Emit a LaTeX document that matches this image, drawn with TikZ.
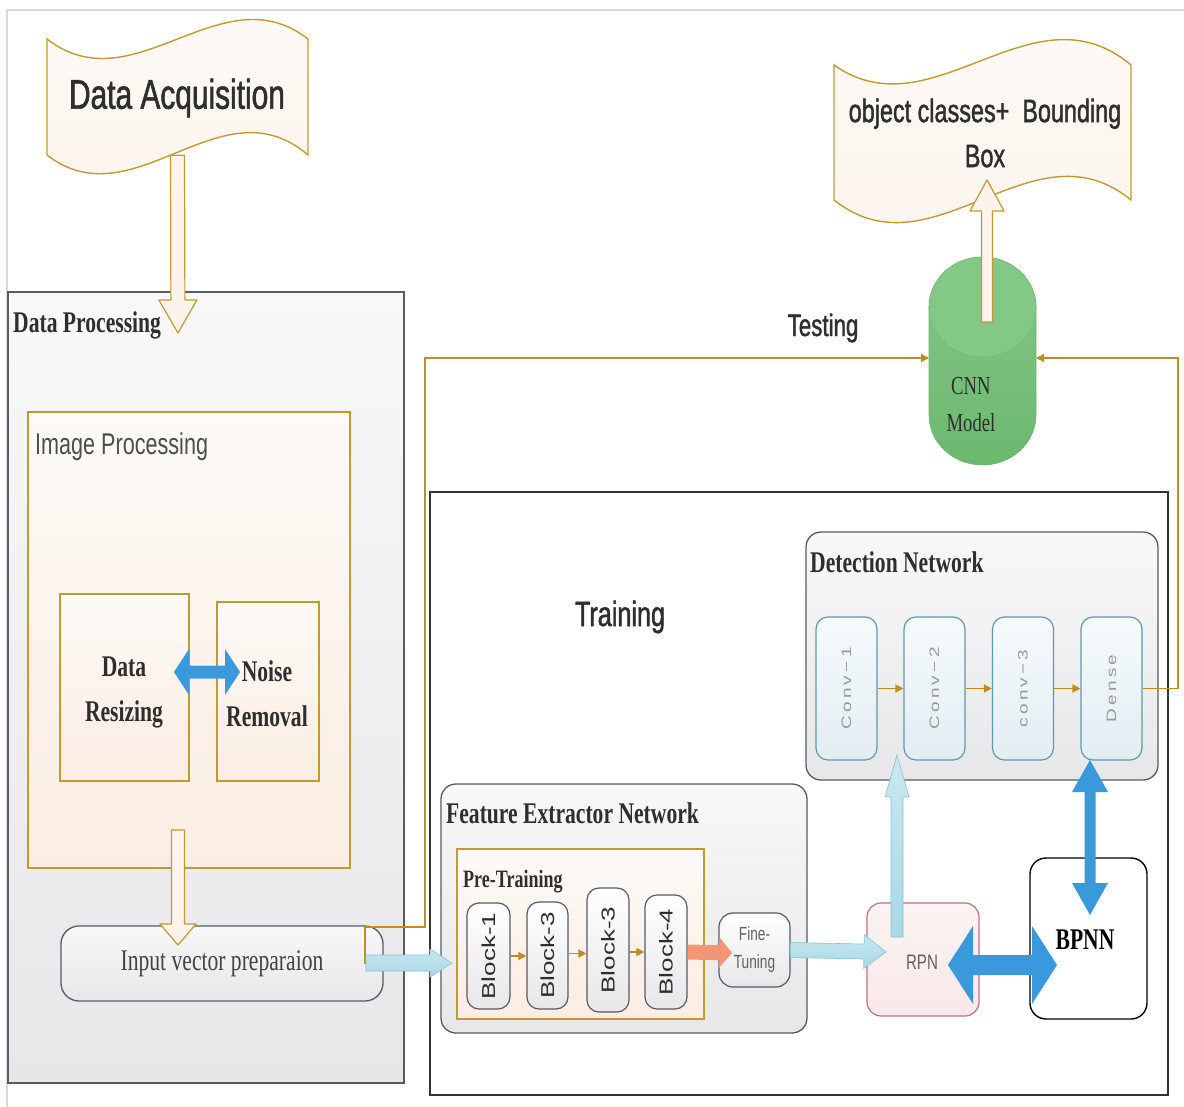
\documentclass[tikz,border=0pt]{standalone}
\usepackage{fontspec}
\usepackage{graphicx}
\usetikzlibrary{calc,arrows.meta}
\newfontfamily\nsans[FakeStretch=0.72]{Liberation Sans}
\newfontfamily\nsansb[FakeStretch=0.72,FakeBold=1.3]{Liberation Sans}
\newfontfamily\nserif[FakeStretch=0.72]{Liberation Serif}
\newfontfamily\rsans{Liberation Sans}
\newfontfamily\lsans[LetterSpace=17]{Liberation Sans}
\definecolor{gold}{HTML}{C39A2E}
\definecolor{goldline}{HTML}{C08E1E}
\definecolor{cream}{HTML}{FCF4EC}
\definecolor{creamtop}{HTML}{FDFAF7}
\definecolor{creamdk}{HTML}{FBEDE2}
\definecolor{boxgray}{HTML}{565B66}
\definecolor{graytop}{HTML}{F8F8F9}
\definecolor{graybot}{HTML}{E7E7EA}
\definecolor{convtop}{HTML}{F6FAFC}
\definecolor{convbot}{HTML}{E2EDF2}
\definecolor{bluearr}{HTML}{3A99DC}
\definecolor{lblue}{HTML}{A9D8E6}
\definecolor{lbluetop}{HTML}{C8E8F0}
\definecolor{lbluedk}{HTML}{86C3D4}
\definecolor{teal}{HTML}{5E9BA9}
\definecolor{orangearr}{HTML}{F29675}
\definecolor{cnngreen}{HTML}{74BF77}
\definecolor{cnntop}{HTML}{84C886}
\definecolor{cnnbot}{HTML}{6CB86F}
\definecolor{rpntop}{HTML}{FCF3F3}
\definecolor{rpnbot}{HTML}{F9E8E9}
\definecolor{rpnline}{HTML}{C27078}
\definecolor{txt}{HTML}{2E2E2E}
\newcommand\blockarrow[6]{%
  \coordinate (bah) at ($(#3)!#6!(#2)$);
  \path[#1] ($(#2)!#4!90:(#3)$) -- ($(bah)!#4!90:(#3)$) -- ($(bah)!#5!90:(#3)$) -- (#3)
    -- ($(bah)!#5!-90:(#3)$) -- ($(bah)!#4!-90:(#3)$) -- ($(#2)!#4!-90:(#3)$) -- cycle;}
\newcommand\dblarrow[6]{%
  \coordinate (dba) at ($(#2)!#6!(#3)$);
  \coordinate (dbb) at ($(#3)!#6!(#2)$);
  \path[#1] (#2) -- ($(dba)!#5!90:(#3)$) -- ($(dba)!#4!90:(#3)$) -- ($(dbb)!#4!90:(#3)$)
    -- ($(dbb)!#5!90:(#3)$) -- (#3) -- ($(dbb)!#5!-90:(#3)$) -- ($(dbb)!#4!-90:(#3)$)
    -- ($(dba)!#4!-90:(#3)$) -- ($(dba)!#5!-90:(#3)$) -- cycle;}
\tikzset{
  graybox/.style={draw=boxgray, line width=1.3pt, top color=graytop, bottom color=graybot, inner sep=0pt},
  creambox/.style={draw=gold, line width=1.3pt, top color=creamtop, bottom color=creamdk, inner sep=0pt},
  blockbox/.style={draw=boxgray, line width=1.2pt, rounded corners=12pt, top color=white, bottom color=graybot, inner sep=0pt},
  convbox/.style={draw=teal, line width=1.2pt, rounded corners=12pt, top color=convtop, bottom color=convbot, inner sep=0pt},
  flag/.style={draw=gold, line width=1.4pt, top color=creamtop, bottom color=cream},
  hollow/.style={draw=gold, line width=1.2pt, fill=cream, line join=round},
  lbarrow/.style={draw=lbluedk, line width=0.6pt, top color=lbluetop, bottom color=lblue},
  bluedbl/.style={fill=bluearr},
  goldconn/.style={draw=goldline, line width=1.5pt, -{Triangle[length=8pt,width=8pt]}},
  titlese/.style={font=\nserif\bfseries\fontsize{30}{34}\selectfont, text=txt, inner sep=0pt},
  titlesa/.style={font=\nsans\fontsize{30}{34}\selectfont, text=txt!85!white, inner sep=0pt},
}
\begin{document}
\begin{tikzpicture}[x=1pt,y=-1pt]
\useasboundingbox (0,0) rectangle (1184,1107);
\fill[white] (0,0) rectangle (1184,1107);
\draw[gray!30, line width=1.2pt] (7,1107) -- (7,10) -- (1184,10);

% ---------- Data processing side
\node[graybox, minimum width=396, minimum height=791] (dp) at (206,687.5) {};
\node[titlese, anchor=base west] (dptitle) at (13,333) {Data Processing};
\node[creambox, minimum width=322, minimum height=456] (ip) at (189,640) {};
\node[titlesa, anchor=base west] (iptitle) at (35,454) {Image Processing};
\node[creambox, minimum width=129, minimum height=187] (dr) at (124.5,687.5) {};
\node[creambox, minimum width=102, minimum height=179] (nr) at (268,691.5) {};
\node[titlese, align=center, font=\nserif\bfseries\fontsize{30}{45}\selectfont] (drt) at (124,692) {Data\\Resizing};
\node[titlese, align=center, font=\nserif\bfseries\fontsize{30}{45}\selectfont] (nrt) at (267,694) {Noise\\Removal};
\node[draw=boxgray, line width=1.3pt, rounded corners=18pt, top color=graytop, bottom color=graybot, minimum width=322, minimum height=75, inner sep=0pt] (inp) at (222,963.5) {};
\node[font=\nserif\fontsize{30}{34}\selectfont, text=txt!90!white] (inpt) at (222,964) {Input vector preparaion};

% ---------- Training side
\node[draw=black!80, line width=1.3pt, fill=white, minimum width=738, minimum height=603, inner sep=0pt] (tr) at (799,793.5) {};
\node[font=\nsansb\fontsize{35}{40}\selectfont, text=txt] (trt) at (620,617) {Training};
\node[graybox, rounded corners=15pt, minimum width=352, minimum height=248] (dn) at (982,656) {};
\node[titlese, anchor=base west] (dnt) at (810,572) {Detection Network};
\node[convbox, minimum width=61, minimum height=143] (c1) at (846.5,688.5) {\rotatebox{90}{\scalebox{1}[0.72]{\lsans\fontsize{19}{19}\selectfont\color{gray!80}Conv−1}}};
\node[convbox, minimum width=61, minimum height=143] (c2) at (934.5,688.5) {\rotatebox{90}{\scalebox{1}[0.72]{\lsans\fontsize{19}{19}\selectfont\color{gray!80}Conv−2}}};
\node[convbox, minimum width=61, minimum height=143] (c3) at (1023,688.5) {\rotatebox{90}{\scalebox{1}[0.72]{\lsans\fontsize{19}{19}\selectfont\color{gray!80}conv−3}}};
\node[convbox, minimum width=61, minimum height=143] (de) at (1111.5,688.5) {\rotatebox{90}{\scalebox{1}[0.72]{\lsans\fontsize{19}{19}\selectfont\color{gray!80}Dense}}};
\draw[goldconn] (c1) -- (c2);
\draw[goldconn] (c2) -- (c3);
\draw[goldconn] (c3) -- (de);

\node[graybox, rounded corners=15pt, minimum width=366, minimum height=249] (fe) at (624,908.5) {};
\node[titlese, anchor=base west] (fet) at (446,823) {Feature Extractor Network};
\node[creambox, minimum width=247, minimum height=170] (pt) at (580.5,934) {};
\node[titlese, anchor=base west, font=\nserif\bfseries\fontsize{25}{30}\selectfont] (ptt) at (463,887) {Pre-Training};
\node[blockbox, minimum width=43, minimum height=106] (b1) at (488.5,956) {\rotatebox{90}{\scalebox{1}[0.72]{\rsans\fontsize{26}{26}\selectfont\color{txt}Block-1}}};
\node[blockbox, minimum width=41, minimum height=107] (b2) at (547.5,955.5) {\rotatebox{90}{\scalebox{1}[0.72]{\rsans\fontsize{26}{26}\selectfont\color{txt}Block-3}}};
\node[blockbox, minimum width=42, minimum height=124] (b3) at (608,950) {\rotatebox{90}{\scalebox{1}[0.72]{\rsans\fontsize{26}{26}\selectfont\color{txt}Block-3}}};
\node[blockbox, minimum width=42, minimum height=114] (b4) at (666,952) {\rotatebox{90}{\scalebox{1}[0.72]{\rsans\fontsize{26}{26}\selectfont\color{txt}Block-4}}};
\draw[goldconn] (b1.east) -- (b1.east -| b2.west);
\draw[goldconn] ($(b2.east)+(0,-2)$) -- ($(b2.east -| b3.west)+(0,-2)$);
\draw[goldconn] ($(b3.east)+(0,2)$) -- ($(b3.east -| b4.west)+(0,2)$);
\node[blockbox, rounded corners=14pt, minimum width=71, minimum height=74, align=center, font=\nsans\fontsize{19}{28}\selectfont, text=txt!75!white] (ft) at (754.5,950) {Fine-\\Tuning};

\node[draw=rpnline, line width=1.2pt, rounded corners=14pt, top color=rpntop, bottom color=rpnbot, minimum width=112, minimum height=113, inner sep=0pt] (rpn) at (923,959.5) {};
\node[font=\nsans\fontsize{21}{24}\selectfont, text=txt!75!white] (rpnt) at (922,962) {RPN};
\node[draw=black, line width=1.4pt, rounded corners=16pt, fill=white, minimum width=117, minimum height=161, inner sep=0pt] (bp) at (1088.5,938.5) {};
\node[font=\nserif\bfseries\fontsize{30}{34}\selectfont, text=black] (bpt) at (1085,940) {BPNN};

% ---------- Flags
\path[flag] (47,39) .. controls (134,106.5) and (221,-28.5) .. (308,39) -- (308,155)
  .. controls (221,80.3) and (134,222.5) .. (47,155) -- cycle;
\node[minimum width=261, minimum height=116, inner sep=0pt] (acq) at (177.5,97) {};
\node[font=\nsansb\fontsize{41.5}{46}\selectfont, text=txt] (acqt) at (177,98) {Data Acquisition};

\path[flag] (834,65) .. controls (933,135) and (1032,-18) .. (1131,65) -- (1131,200)
  .. controls (1032,119) and (933,279) .. (834,200) -- cycle;
\node[minimum width=297, minimum height=135, inner sep=0pt] (obj) at (982.5,132.5) {};
\node[font=\nsansb\fontsize{32.5}{45}\selectfont, text=txt, align=center] (objt) at (985,133) {object classes+\ \ Bounding\\Box};

% ---------- CNN cylinder
\path[draw=cnnbot, line width=0.6pt, top color=cnntop, bottom color=cnnbot]
  (929,307) -- (929,415) arc[start angle=180, end angle=360, x radius=53.5pt, y radius=50pt]
  -- (1036,307) arc[start angle=0, end angle=180, x radius=53.5pt, y radius=50pt] -- cycle;
\path[fill=cnntop, draw=cnngreen, line width=0.6pt] (982.5,307) ellipse[x radius=53.5pt, y radius=50pt];
\node[minimum width=107, minimum height=208, inner sep=0pt] (cnn) at (982.5,361) {};
\node[font=\nserif\fontsize{26}{37}\selectfont, text=txt, align=center] (cnnt) at (971,405) {CNN\\Model};
\node[font=\nsansb\fontsize{31}{36}\selectfont, text=txt] (test) at (823,328) {Testing};

% ---------- Gold connectors to CNN
\coordinate (tstart) at (382,963);
\coordinate (cnnw) at (929,358);
\coordinate (cnne) at (1036,358);
\draw[goldconn] (tstart) -- (365,963) -- (365,927) -- (425,927) -- (425,358) -- (cnnw);
\draw[goldconn] (de.east) -- (1178,688.5) -- (1178,358) -- (cnne);

% ---------- Hollow arrows
\coordinate (a1s) at (acq.south);
\coordinate (a1e) at (178,333);
\blockarrow{hollow}{a1s}{a1e}{7pt}{19pt}{33pt}
\coordinate (a2s) at (178,830);
\coordinate (a2e) at (178,945);
\blockarrow{hollow}{a2s}{a2e}{6.5pt}{18pt}{21pt}
\coordinate (a3s) at (987,322);
\coordinate (a3e) at (987,180);
\blockarrow{hollow}{a3s}{a3e}{5.5pt}{17pt}{31pt}

% ---------- light-blue arrows
\coordinate (l1s) at (366,963);
\coordinate (l1e) at (452,963);
\blockarrow{lbarrow}{l1s}{l1e}{8pt}{14pt}{22pt}
\coordinate (l2s) at (ft.east);
\coordinate (l2e) at (886,952);
\blockarrow{lbarrow}{l2s}{l2e}{7.5pt}{17pt}{22pt}
\coordinate (l3s) at (897,937);
\coordinate (l3e) at (897,755);
\blockarrow{lbarrow}{l3s}{l3e}{6pt}{12pt}{42pt}

% ---------- orange arrow
\coordinate (o1s) at (b4.east);
\coordinate (o1e) at (732,953);
\blockarrow{fill=orangearr}{o1s}{o1e}{7.5pt}{15.5pt}{13pt}

% ---------- blue double arrows
\coordinate (d1s) at (174,672);
\coordinate (d1e) at (240,672);
\dblarrow{bluedbl}{d1s}{d1e}{6.5pt}{23pt}{15pt}
\coordinate (d2s) at (948,965);
\coordinate (d2e) at (1057,965);
\dblarrow{bluedbl}{d2s}{d2e}{10pt}{39pt}{25pt}
\coordinate (d3s) at (1090,760);
\coordinate (d3e) at (1090,915);
\dblarrow{bluedbl}{d3s}{d3e}{5.5pt}{18pt}{32pt}
\end{tikzpicture}
\end{document}
